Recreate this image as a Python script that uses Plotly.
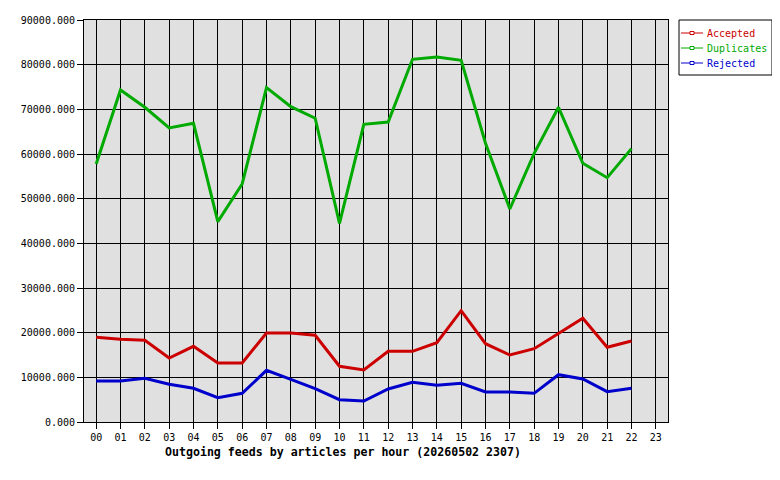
import plotly.graph_objects as go

hours = ["%02d" % h for h in range(24)]

accepted = [18960, 18510, 18290, 14330, 16950, 13210, 13210, 19930, 19930, 19410,
            12470, 11640, 15820, 15820, 17760, 24920, 17530, 15000, 16420, 19860,
            23220, 16720, 18140]
duplicates = [57760, 74330, 70460, 65830, 66870, 44850, 53290, 74860, 70600, 68000,
              44480, 66650, 67170, 81200, 81720, 80980, 62400, 47690, 60160, 70460,
              57920, 54700, 61200]
rejected = [9180, 9180, 9780, 8440, 7550, 5440, 6420, 11570, 9560, 7460,
            4990, 4700, 7390, 8880, 8210, 8660, 6720, 6720, 6420, 10590,
            9630, 6790, 7550]

series = [
    ("Accepted", accepted, "#cc0000"),
    ("Duplicates", duplicates, "#00aa00"),
    ("Rejected", rejected, "#0000cc"),
]

title = "Outgoing feeds by articles per hour (20260502 2307)"

mono = "DejaVu Sans Mono"

# page body has an 8px margin, so the figure is 8px smaller and shifted
W, H = 772, 472
L, T, PW, PH = 76, 12, 584, 402


def px(x):
    return (x - L) / PW


def py(y):
    return 1 - (y - T) / PH


fig = go.Figure()
for name, vals, col in series:
    fig.add_trace(go.Scatter(
        x=list(range(len(vals))),
        y=vals,
        mode="lines",
        name=name,
        line=dict(color=col, width=3),
        showlegend=False,
    ))

# hand drawn legend box, like the gd graph one
shapes = [dict(type="rect", xref="paper", yref="paper",
               x0=px(671), x1=px(764), y0=py(67), y1=py(12),
               line=dict(color="black", width=1), fillcolor="white")]
annotations = []
for i, (name, vals, col) in enumerate(series):
    yy = 25 + 15 * i
    shapes.append(dict(type="line", xref="paper", yref="paper",
                       x0=px(673), x1=px(695), y0=py(yy), y1=py(yy),
                       line=dict(color=col, width=1)))
    shapes.append(dict(type="rect", xref="paper", yref="paper",
                       x0=px(682), x1=px(686), y0=py(yy + 1.5), y1=py(yy - 1.5),
                       line=dict(color=col, width=1), fillcolor="white"))
    annotations.append(dict(xref="paper", yref="paper", x=px(697), y=py(yy),
                            xanchor="left", yanchor="middle", showarrow=False,
                            text=name, font=dict(family=mono, size=10, color=col)))

# x label sits a bit left of the plot centre in the original
annotations.append(dict(xref="paper", yref="paper", x=px(334.5), y=py(444),
                        xanchor="center", yanchor="middle", showarrow=False,
                        text="<b>%s</b>" % title,
                        font=dict(family=mono, size=11.6, color="black")))

fig.update_layout(
    width=W, height=H,
    margin=dict(l=L, r=W - L - PW, t=T, b=H - T - PH, autoexpand=False),
    paper_bgcolor="white",
    plot_bgcolor="#e0e0e0",
    font=dict(family=mono, size=10, color="black"),
    shapes=shapes,
    annotations=annotations,
    xaxis=dict(
        range=[-0.5, 23.5],
        tickvals=list(range(24)),
        ticktext=hours,
        showgrid=True, gridcolor="black", gridwidth=1,
        showline=True, linecolor="black", linewidth=1, mirror=True,
        ticks="outside", ticklen=6, tickcolor="black",
        zeroline=False,
    ),
    yaxis=dict(
        range=[0, 90000],
        dtick=10000,
        tickformat=".3f",
        showgrid=True, gridcolor="black", gridwidth=1,
        showline=True, linecolor="black", linewidth=1, mirror=True,
        ticks="outside", ticklen=6, tickcolor="black",
        zeroline=False,
    ),
)

fig.write_html("out.html")
